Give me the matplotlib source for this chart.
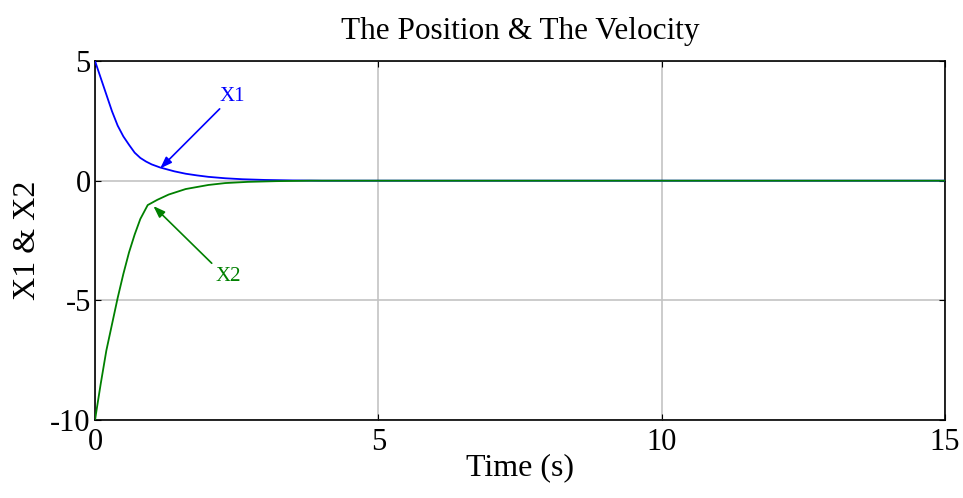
import matplotlib
matplotlib.use("Agg")
import matplotlib.pyplot as plt

# Data
t1 = [0, 0.1, 0.2, 0.3, 0.4, 0.5, 0.6, 0.7, 0.8, 0.9, 1.0, 1.15, 1.4, 1.6, 1.8, 2.0, 2.3, 2.6, 3.0, 3.5, 4.0, 15]
x1 = [5, 4.3, 3.6, 2.9, 2.3, 1.85, 1.5, 1.17, 0.95, 0.8, 0.68, 0.55, 0.39, 0.29, 0.22, 0.16, 0.10, 0.06, 0.03, 0.01, 0, 0]
t2 = [0, 0.1, 0.2, 0.3, 0.4, 0.5, 0.6, 0.7, 0.8, 0.93, 1.1, 1.3, 1.6, 2.0, 2.3, 2.7, 3.2, 3.8, 15]
x2 = [-10, -8.5, -7.1, -6.0, -4.9, -3.9, -3.0, -2.25, -1.6, -1.02, -0.8, -0.58, -0.35, -0.18, -0.10, -0.05, -0.02, 0, 0]

xticks = [0, 5, 10, 15]
yticks = [-10, -5, 0, 5]
title = "The Position & The Velocity"
xlabel = "Time (s)"
ylabel = "X1 & X2"

plt.rcParams['font.family'] = ['Liberation Serif', 'DejaVu Serif']
plt.rcParams['axes.unicode_minus'] = False

fig = plt.figure(figsize=(9.63, 4.98), dpi=100)
ax = fig.add_axes([95/963, 78/498, 850/963, 359/498])

ax.plot(t1, x1, color=(0, 0, 1), lw=1.3, zorder=3)
ax.plot(t2, x2, color=(0, 0.5, 0), lw=1.3, zorder=3)

ax.set_xlim(0, 15)
ax.set_ylim(-10, 5)
ax.set_xticks(xticks)
ax.set_yticks(yticks)
ax.grid(True, color='#c4c4c4', lw=1.2)
ax.set_axisbelow(True)
ax.tick_params(direction='in', length=4, width=0.8, top=True, right=True, labelsize=22)
ax.tick_params(axis='x', pad=6)
ax.tick_params(axis='y', pad=3)
for s in ax.spines.values():
    s.set_linewidth(1.2)

ax.set_title(title, fontsize=22.5, pad=16)
ax.set_xlabel(xlabel, fontsize=23, labelpad=-3)
ax.set_ylabel(ylabel, fontsize=23, labelpad=6)

# annotations
ax.annotate('', xy=(1.15, 0.51), xytext=(2.2, 3.0),
            arrowprops=dict(arrowstyle='-|>,head_length=0.7,head_width=0.25', color=(0, 0, 1), lw=1.2,
                            shrinkA=0, shrinkB=0))
ax.text(2.43, 3.52, 'X1', color=(0, 0, 1), fontsize=15, ha='center', va='center')
ax.annotate('', xy=(1.03, -1.06), xytext=(2.06, -3.45),
            arrowprops=dict(arrowstyle='-|>,head_length=0.7,head_width=0.25', color=(0, 0.5, 0), lw=1.2,
                            shrinkA=0, shrinkB=0))
ax.text(2.35, -4.02, 'X2', color=(0, 0.5, 0), fontsize=15, ha='center', va='center')

fig.savefig('out.png', dpi=100)
